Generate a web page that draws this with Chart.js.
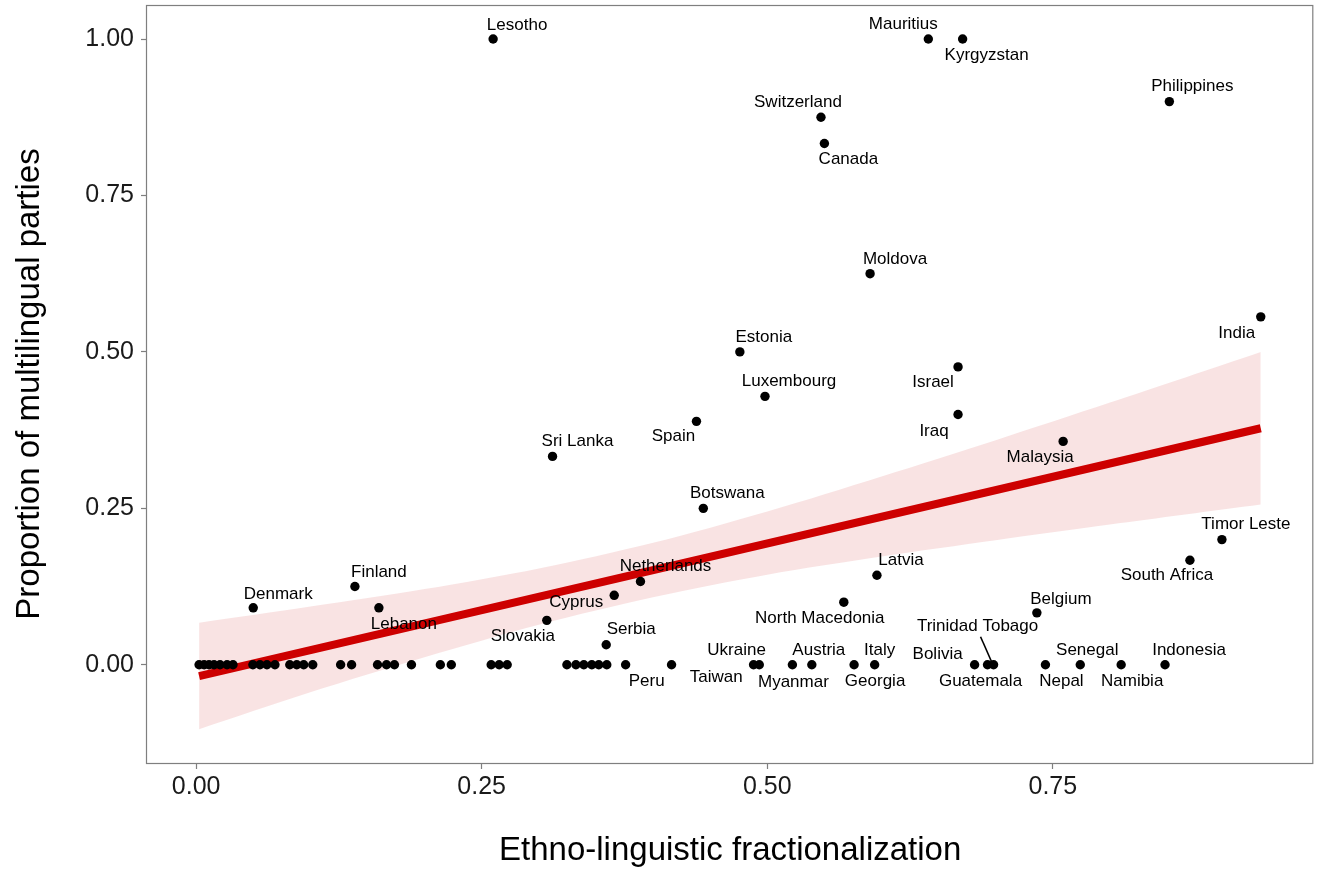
<!DOCTYPE html>
<html><head><meta charset="utf-8">
<script src="https://cdn.jsdelivr.net/npm/chart.js@4.4.0/dist/chart.umd.min.js"></script>
<style>html,body{margin:0;padding:0;background:#fff;overflow:hidden;}#wrap{width:1318px;height:871px;}</style>
</head><body><div id="wrap"><canvas id="c" width="1318" height="871"></canvas></div>
<script>
// ---- data ----
const labeledNames = ["Lesotho","Mauritius","Kyrgyzstan","Philippines","Switzerland","Canada","Moldova","India","Estonia","Israel","Luxembourg","Iraq","Spain","Malaysia","Sri Lanka","Botswana","Timor Leste","South Africa","Denmark","Finland","Lebanon","Netherlands","Cyprus","Latvia","North Macedonia","Belgium","Slovakia","Serbia","Peru","Ukraine","Taiwan","Myanmar","Austria","Georgia","Italy","Bolivia","Guatemala","Trinidad Tobago","Nepal","Senegal","Namibia","Indonesia"];
const labeledX = [0.260,0.641,0.671,0.852,0.547,0.550,0.590,0.932,0.476,0.667,0.498,0.667,0.438,0.759,0.312,0.444,0.898,0.870,0.050,0.139,0.160,0.389,0.366,0.596,0.567,0.736,0.307,0.359,0.376,0.488,0.493,0.522,0.539,0.576,0.594,0.6815,0.6928,0.6981,0.7435,0.774,0.8098,0.8482];
const labeledY = [1.000,1.000,1.000,0.900,0.875,0.833,0.625,0.556,0.500,0.476,0.429,0.400,0.389,0.357,0.333,0.250,0.200,0.167,0.091,0.125,0.091,0.133,0.111,0.143,0.100,0.083,0.071,0.032,0,0,0,0,0,0,0,0,0,0,0,0,0,0];
const otherX = [0.0026,0.0070,0.0113,0.0157,0.0209,0.0271,0.0323,0.0497,0.0559,0.0620,0.0690,0.0820,0.0881,0.0942,0.1021,0.1265,0.1361,0.1588,0.1667,0.1736,0.1885,0.2138,0.2234,0.2583,0.2653,0.2723,0.3246,0.3325,0.3394,0.3464,0.3525,0.3595,0.4162];
const otherY = [0,0,0,0,0,0,0,0,0,0,0,0,0,0,0,0,0,0,0,0,0,0,0,0,0,0,0,0,0,0,0,0,0];
const fitX = [0.0026, 0.932];
const fitY = [-0.018, 0.378];
const bandX = [0.0026,0.1,0.2,0.3,0.4,0.5,0.6,0.7,0.8,0.932];
const bandUpper = [0.067,0.093,0.121,0.154,0.195,0.245,0.301,0.359,0.419,0.500];
const bandLower = [-0.103,-0.044,0.012,0.064,0.108,0.144,0.173,0.199,0.224,0.256];
const xTicks = [0, 0.25, 0.5, 0.75];
const yTicks = [0, 0.25, 0.5, 0.75, 1];
const xTitle = "Ethno-linguistic fractionalization";
const yTitle = "Proportion of multilingual parties";

// ---- layout (label offsets in px, not data) ----
const labelOffsets = [[24,-14],[-25,-15],[24,16],[23,-15],[-23,-15],[24,16],[25,-14],[-24,16],[24,-15],[-25,15],[24,-15],[-24,17],[-23,15],[-23,16],[25,-15],[24,-15],[24,-15],[-23,15],[25,-14],[24,-14],[25,16],[25,-15],[-38,7],[24,-15],[-24,16],[24,-14],[-24,16],[25,-15],[21,17],[-17,-14],[-43,13],[1,18],[7,-14],[21,17],[5,-14],[-37,-10],[-7,17],[-16,-38],[16,17],[7,-14],[11,17],[24,-14]];
const leaderFor = "Trinidad Tobago";

const FONT = '"Liberation Sans", Arial, sans-serif';
const toXY = (xs, ys) => xs.map((v, i) => ({x: v, y: ys[i]}));

const overlay = {
  id: 'overlay',
  afterDatasetsDraw(chart) {
    const {ctx, chartArea: ca, scales: {x, y}} = chart;
    ctx.save();
    ctx.font = '17px ' + FONT;
    ctx.fillStyle = '#000';
    ctx.textAlign = 'center';
    ctx.textBaseline = 'middle';
    labeledNames.forEach((n, i) => {
      const px = x.getPixelForValue(labeledX[i]);
      const py = y.getPixelForValue(labeledY[i]);
      const [dx, dy] = labelOffsets[i];
      ctx.fillText(n, px + dx, py + dy);
      if (n === leaderFor) {
        ctx.beginPath();
        ctx.strokeStyle = '#000';
        ctx.lineWidth = 1.6;
        ctx.moveTo(px - 13, py - 28);
        ctx.lineTo(px - 2, py - 3);
        ctx.stroke();
      }
    });
    ctx.strokeStyle = '#7f7f7f';
    ctx.lineWidth = 1.2;
    ctx.strokeRect(ca.left - 0.5, ca.top + 0.5, ca.width, ca.height);
    ctx.restore();
  }
};

new Chart(document.getElementById('c'), {
  type: 'scatter',
  data: {
    datasets: [
      {type: 'line', data: toXY(bandX, bandLower), borderWidth: 0, pointRadius: 0, fill: false, tension: 0.3, order: 4},
      {type: 'line', data: toXY(bandX, bandUpper), borderWidth: 0, pointRadius: 0, fill: '-1', backgroundColor: 'rgba(204,0,0,0.11)', tension: 0.3, order: 3},
      {type: 'line', data: toXY(fitX, fitY), borderColor: '#CD0000', borderWidth: 8, pointRadius: 0, fill: false, order: 2, borderCapStyle: 'butt'},
      {data: toXY(otherX, otherY), backgroundColor: '#000', borderWidth: 0, pointRadius: 4.7, order: 1},
      {data: toXY(labeledX, labeledY), backgroundColor: '#000', borderWidth: 0, pointRadius: 4.7, order: 1}
    ]
  },
  options: {
    responsive: false,
    animation: false,
    devicePixelRatio: 1,
    layout: {padding: {top: 5, right: 2, left: 0, bottom: 0}},
    plugins: {legend: {display: false}, tooltip: {enabled: false}},
    scales: {
      x: {
        type: 'linear', min: -0.043, max: 0.978,
        afterBuildTicks: s => { s.ticks = xTicks.map(v => ({value: v})); },
        afterFit: s => { s.height = 108; s.paddingLeft = 0; s.paddingRight = 0; },
        grid: {drawOnChartArea: false, drawTicks: true, tickLength: 6, tickColor: '#7f7f7f', tickWidth: 1.2},
        border: {display: false},
        ticks: {font: {family: FONT, size: 25}, color: '#1a1a1a', padding: 3, maxRotation: 0, callback: v => Number(v).toFixed(2)},
        title: {display: true, text: xTitle, font: {family: FONT, size: 33}, color: '#000', padding: {top: 0, bottom: 0}}
      },
      y: {
        type: 'linear', min: -0.157, max: 1.0544,
        afterBuildTicks: s => { s.ticks = yTicks.map(v => ({value: v})); },
        afterFit: s => { s.width = 147; s.paddingTop = 0; s.paddingBottom = 0; },
        grid: {drawOnChartArea: false, drawTicks: true, tickLength: 6, tickColor: '#7f7f7f', tickWidth: 1.2},
        border: {display: false},
        ticks: {font: {family: FONT, size: 25}, color: '#1a1a1a', padding: 7, callback: v => Number(v).toFixed(2)},
        title: {display: true, text: yTitle, font: {family: FONT, size: 33}, color: '#000', padding: {top: 10, bottom: 0}}
      }
    }
  },
  plugins: [overlay]
});
</script></body></html>
